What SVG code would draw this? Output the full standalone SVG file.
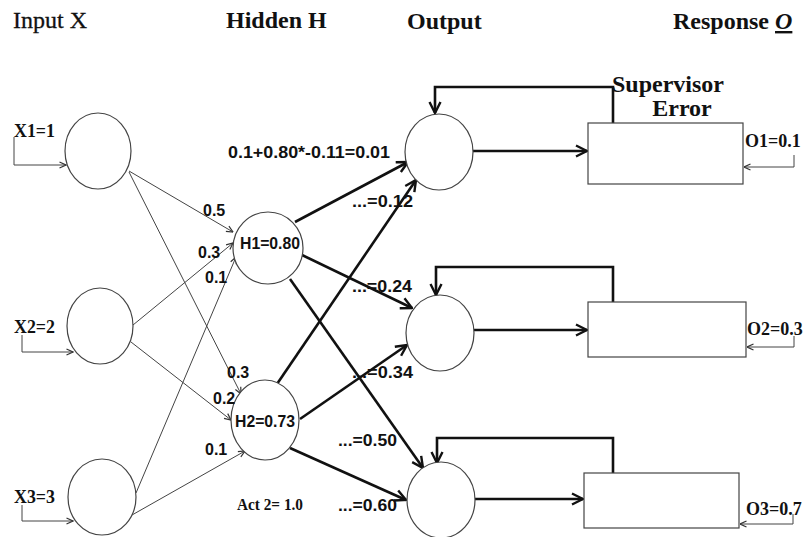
<svg xmlns="http://www.w3.org/2000/svg" width="804" height="537" viewBox="0 0 804 537">
  <style>
    .bg { fill: #ffffff; }
    .unit { fill: #ffffff; stroke: #444; stroke-width: 1.2; }
    .box { fill: #ffffff; stroke: #444; stroke-width: 1.2; }
    .thin { fill: none; stroke: #444; stroke-width: 1; }
    .thick { fill: none; stroke: #111; stroke-width: 2.6; }
    .hdr { font-family: "Liberation Serif", "Times New Roman", serif; font-size: 24px; fill: #111; }
    .serif { font-family: "Liberation Serif", "Times New Roman", serif; font-weight: bold; fill: #111; }
    .sans { font-family: "Liberation Sans", Arial, sans-serif; font-weight: bold; font-size: 16px; fill: #111; }
  </style>
  <defs>
    <marker id="arrowBig" viewBox="0 0 14 14" refX="13" refY="7" markerWidth="14" markerHeight="14" markerUnits="userSpaceOnUse" orient="auto">
      <path d="M2,1.5 L13,7 L2,12.5" fill="none" stroke="#111" stroke-width="2.4"/>
    </marker>
    <marker id="arrowSmall" viewBox="0 0 8 8" refX="7.5" refY="4" markerWidth="8" markerHeight="8" markerUnits="userSpaceOnUse" orient="auto">
      <path d="M1,1 L7.5,4 L1,7" fill="none" stroke="#333" stroke-width="1.2"/>
    </marker>
  </defs>

  <rect class="bg" x="0" y="0" width="804" height="537"/>

  <!-- column headings -->
  <g id="headings">
    <text class="hdr" x="13" y="28" font-size="25" stroke="#111" stroke-width="0.3">Input X</text>
    <text class="hdr" x="226" y="28" font-weight="bold">Hidden H</text>
    <text class="hdr" x="407" y="29" font-weight="bold">Output</text>
    <text class="hdr" x="673" y="29" font-weight="bold">Response <tspan font-style="italic" text-decoration="underline">O</tspan></text>
    <text class="hdr" x="668" y="92" font-size="21" font-weight="bold" text-anchor="middle">Supervisor</text>
    <text class="hdr" x="682" y="116" font-size="21" font-weight="bold" text-anchor="middle">Error</text>
  </g>

  <!-- connectors -->
  <g id="connectors">
    <!-- external inputs -->
    <path class="thin" d="M14,137 V165 H66" marker-end="url(#arrowSmall)"/>
    <path class="thin" d="M22,335 V352 H73" marker-end="url(#arrowSmall)"/>
    <path class="thin" d="M22,505 V521 H73" marker-end="url(#arrowSmall)"/>

    <!-- input to hidden -->
    <line class="thin" x1="129" y1="171" x2="233" y2="232" marker-end="url(#arrowSmall)"/>
    <line class="thin" x1="129" y1="172" x2="241" y2="394" marker-end="url(#arrowSmall)"/>
    <line class="thin" x1="133" y1="325" x2="233" y2="243" marker-end="url(#arrowSmall)"/>
    <line class="thin" x1="131" y1="342" x2="231" y2="420" marker-end="url(#arrowSmall)"/>
    <line class="thin" x1="136" y1="493" x2="236" y2="257" marker-end="url(#arrowSmall)"/>
    <line class="thin" x1="132" y1="515" x2="245" y2="451" marker-end="url(#arrowSmall)"/>

    <!-- hidden to output -->
    <line class="thick" x1="295" y1="222" x2="408" y2="162" marker-end="url(#arrowBig)"/>
    <line class="thick" x1="277" y1="384" x2="416" y2="180" marker-end="url(#arrowBig)"/>
    <line class="thick" x1="300" y1="254" x2="412" y2="308" marker-end="url(#arrowBig)"/>
    <line class="thick" x1="290" y1="279" x2="423" y2="468" marker-end="url(#arrowBig)"/>
    <line class="thick" x1="300" y1="419" x2="407" y2="345" marker-end="url(#arrowBig)"/>
    <line class="thick" x1="290" y1="448" x2="406" y2="500" marker-end="url(#arrowBig)"/>

    <!-- output to error boxes -->
    <line class="thick" x1="473" y1="151" x2="587" y2="151" marker-end="url(#arrowBig)"/>
    <line class="thick" x1="474" y1="330" x2="587" y2="330" marker-end="url(#arrowBig)"/>
    <line class="thick" x1="475" y1="499" x2="583" y2="499" marker-end="url(#arrowBig)"/>

    <!-- error feedback -->
    <path class="thick" d="M613,123 V87 H435 V113" marker-end="url(#arrowBig)"/>
    <path class="thick" d="M613,302 V267 H436 V295" marker-end="url(#arrowBig)"/>
    <path class="thick" d="M613,473 V438 H437 V463" marker-end="url(#arrowBig)"/>

    <!-- target responses -->
    <path class="thin" d="M794,155 V167 H744" marker-end="url(#arrowSmall)"/>
    <path class="thin" d="M794,336 V347 H747" marker-end="url(#arrowSmall)"/>
    <path class="thin" d="M793,514 V524 H740" marker-end="url(#arrowSmall)"/>
  </g>

  <!-- input layer -->
  <g id="input-x1">
    <ellipse class="unit" cx="98" cy="151" rx="33" ry="38"/>
    <text class="serif" x="14" y="137" font-size="19" textLength="41" lengthAdjust="spacingAndGlyphs">X1=1</text>
  </g>
  <g id="input-x2">
    <ellipse class="unit" cx="100" cy="326" rx="33" ry="38"/>
    <text class="serif" x="14" y="333" font-size="19" textLength="41" lengthAdjust="spacingAndGlyphs">X2=2</text>
  </g>
  <g id="input-x3">
    <ellipse class="unit" cx="102" cy="497" rx="34" ry="38"/>
    <text class="serif" x="14" y="503" font-size="19" textLength="41" lengthAdjust="spacingAndGlyphs">X3=3</text>
  </g>

  <!-- hidden layer -->
  <g id="hidden-h1">
    <ellipse class="unit" cx="268" cy="248" rx="35" ry="36"/>
    <text class="sans" x="240" y="249" textLength="60" lengthAdjust="spacingAndGlyphs">H1=0.80</text>
  </g>
  <g id="hidden-h2">
    <ellipse class="unit" cx="265" cy="420" rx="34" ry="40"/>
    <text class="sans" x="235" y="427" textLength="60" lengthAdjust="spacingAndGlyphs">H2=0.73</text>
  </g>

  <!-- weights -->
  <g id="weights">
    <text class="sans" x="203" y="216">0.5</text>
    <text class="sans" x="198" y="258">0.3</text>
    <text class="sans" x="205" y="283">0.1</text>
    <text class="sans" x="227" y="378">0.3</text>
    <text class="sans" x="213" y="404">0.2</text>
    <text class="sans" x="205" y="455">0.1</text>
    <text class="serif" x="237" y="510" font-size="16" textLength="66" lengthAdjust="spacingAndGlyphs">Act 2= 1.0</text>
  </g>

  <!-- output layer -->
  <g id="output-1">
    <ellipse class="unit" cx="439" cy="152" rx="34" ry="38"/>
  </g>
  <g id="output-2">
    <ellipse class="unit" cx="440" cy="333" rx="34" ry="38"/>
  </g>
  <g id="output-3">
    <ellipse class="unit" cx="441" cy="500" rx="34" ry="38"/>
  </g>

  <!-- output sums -->
  <g id="sums">
    <text class="sans" x="228" y="158" textLength="162" lengthAdjust="spacingAndGlyphs">0.1+0.80*-0.11=0.01</text>
    <text class="sans" x="352" y="207" textLength="61" lengthAdjust="spacingAndGlyphs">...=0.12</text>
    <text class="sans" x="352" y="292" textLength="60" lengthAdjust="spacingAndGlyphs">...=0.24</text>
    <text class="sans" x="352" y="378" textLength="61" lengthAdjust="spacingAndGlyphs">...=0.34</text>
    <text class="sans" x="338" y="446" textLength="59" lengthAdjust="spacingAndGlyphs">...=0.50</text>
    <text class="sans" x="338" y="511" textLength="59" lengthAdjust="spacingAndGlyphs">...=0.60</text>
  </g>

  <!-- error boxes -->
  <g id="error-1">
    <rect class="box" x="588" y="123" width="155" height="61"/>
    <text class="serif" x="745" y="147" font-size="18">O1=0.1</text>
  </g>
  <g id="error-2">
    <rect class="box" x="588" y="302" width="158" height="55"/>
    <text class="serif" x="747" y="335" font-size="18">O2=0.3</text>
  </g>
  <g id="error-3">
    <rect class="box" x="584" y="473" width="155" height="55"/>
    <text class="serif" x="746" y="515" font-size="18">O3=0.7</text>
  </g>
</svg>
